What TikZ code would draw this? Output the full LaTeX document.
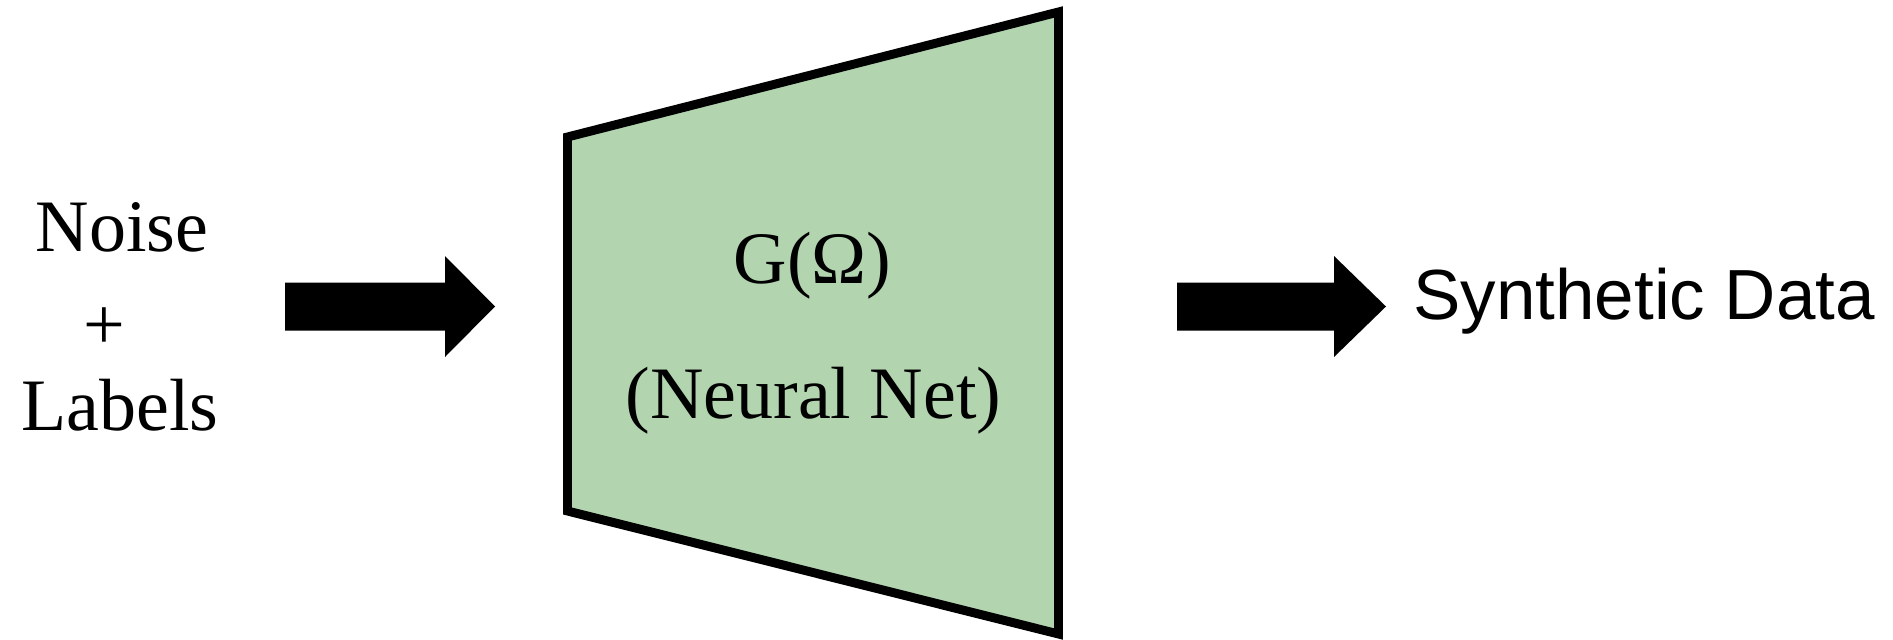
\documentclass[tikz,border=0pt]{standalone}
\usepackage{fontspec}
\setmainfont{Liberation Serif}
\newfontfamily\arialfont{Liberation Sans}
\usetikzlibrary{positioning}
\definecolor{netgreen}{RGB}{178,213,176}

\begin{document}
\begin{tikzpicture}[
    x=0.02cm,y=-0.02cm,
    serifnode/.style={font=\fontsize{42.1}{50}\selectfont,inner sep=0pt},
    sansnode/.style={font=\arialfont\fontsize{40.4}{48}\selectfont,inner sep=0pt},
    fatarrow/.style={fill=black},
    netbox/.style={draw=black,line width=5.1pt,fill=netgreen,line join=miter}
  ]
    \useasboundingbox (0,0) rectangle (1893,639);

    % Eingang: Rauschen und Labels
    \node[serifnode,anchor=base] (noise) at (122,251) {Noise};
    \node[serifnode,anchor=base] (plus) at (104,349) {+};
    \node[serifnode,anchor=base] (labels) at (120,430) {Labels};

    % Pfeil zum Generator
    \coordinate (intail) at (285,306.5);
    \fill[fatarrow] (intail) ++(0,-24) -- ++(160,0) -- ++(0,-26.5) -- ++(50,50.5)
      -- ++(-50,50.5) -- ++(0,-26.5) -- ++(-160,0) -- cycle;

    % Generator als Trapez
    \draw[netbox] (567.5,137) -- (1058.5,12) -- (1058.5,634) -- (567.5,511) -- cycle;
    \node[serifnode,anchor=base] (gen) at (812.5,283) {G(Ω)};
    \node[serifnode,anchor=base] (gentext) at (813.5,418) {(Neural Net)};

    % Ausgang
    \coordinate (outtail) at (1177,306.5);
    \fill[fatarrow] (outtail) ++(0,-24) -- ++(157,0) -- ++(0,-26.5) -- ++(52,50.5)
      -- ++(-52,50.5) -- ++(0,-26.5) -- ++(-157,0) -- cycle;
    \node[sansnode,anchor=base west] (out) at (1413,319) {Synthetic Data};
\end{tikzpicture}
\end{document}
